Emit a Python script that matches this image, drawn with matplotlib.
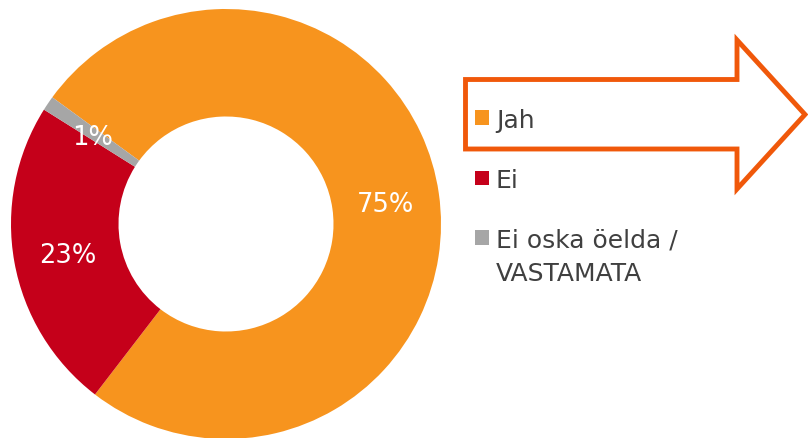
import numpy as np
import matplotlib.pyplot as plt
from matplotlib.patches import Polygon, Rectangle

# Datos
categorias = ['Jah', 'Ei', 'Ei oska öelda /\nVASTAMATA']
valores = [75.4, 23.5, 1.1]
etiquetas = ['75%', '23%', '1%']
colores = ['#F7941E', '#C5001A', '#A6A6A6']

W, H = 808, 439
fig = plt.figure(figsize=(W / 100, H / 100), dpi=100)
fig.patch.set_facecolor('white')

# --- Dona ---
cx, cy, r = 226, 225, 215  # centro y radio en pixeles
ax = fig.add_axes([(cx - r) / W, (H - cy - r) / H, 2 * r / W, 2 * r / H])
wedges, _ = ax.pie(valores, colors=colores, startangle=143.9, counterclock=False,
                   radius=1, wedgeprops=dict(width=0.5, linewidth=0))
for w, txt in zip(wedges, etiquetas):
    ang = np.deg2rad((w.theta1 + w.theta2) / 2)
    ax.text(0.75 * np.cos(ang), 0.75 * np.sin(ang), txt, color='white',
            fontsize=18.5, ha='center', va='center_baseline')
ax.set_xlim(-1, 1)
ax.set_ylim(-1, 1)
ax.set_aspect('equal')
ax.axis('off')

# --- Flecha y leyenda (coordenadas en pixeles) ---
ov = fig.add_axes([0, 0, 1, 1])
ov.set_xlim(0, W)
ov.set_ylim(H, 0)
ov.axis('off')

flecha = [(465.5, 80.5), (737, 80.5), (737, 41), (805, 115.5),
          (737, 190), (737, 150), (465.5, 150)]
ov.add_patch(Polygon(flecha, closed=True, facecolor='white', edgecolor='#F0580A',
                     linewidth=3.5, joinstyle='miter'))

filas_y = [118.5, 179, 238.5]
for cat, col, y in zip(categorias, colores, filas_y):
    ov.add_patch(Rectangle((474.5, y - 7.5), 14.5, 14.5, facecolor=col, edgecolor='none'))
    for i, linea in enumerate(cat.split('\n')):
        ov.text(496, y + 9.5 + i * 33, linea, color='#404040', fontsize=18,
                ha='left', va='baseline')

fig.savefig('out.png', dpi=100)
